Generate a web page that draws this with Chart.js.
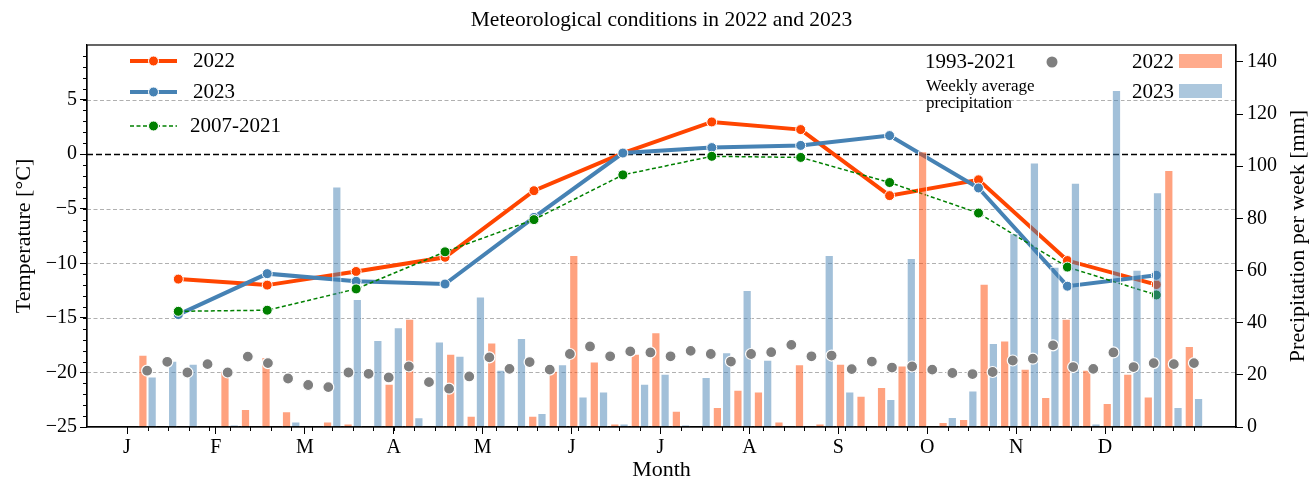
<!DOCTYPE html>
<html>
<head>
<meta charset="utf-8">
<script src="https://cdn.jsdelivr.net/npm/chart.js@4.4.1/dist/chart.umd.min.js"></script>
<style>
  html, body { margin: 0; padding: 0; background: #fff; }
  canvas { display: block; }
</style>
</head>
<body>
<canvas id="chart" width="1316" height="481"></canvas>
<script>
// Month tick labels
const months = ['J', 'F', 'M', 'A', 'M', 'J', 'J', 'A', 'S', 'O', 'N', 'D'];

// Monthly mean air temperature [°C]
const temp2022 = [-11.45, -12.0, -10.75, -9.45, -3.35, 0.1, 2.95, 2.25, -3.8, -2.35, -9.75, -11.95];
const temp2023 = [-14.7, -10.95, -11.65, -11.9, -5.8, 0.1, 0.6, 0.8, 1.7, -3.1, -12.1, -11.1];
const temp2007_2021 = [-14.4, -14.3, -12.35, -8.95, -6.0, -1.9, -0.2, -0.3, -2.6, -5.4, -10.35, -12.9];

// Weekly precipitation [mm], weeks 1..52
const precip2022 = [
  27.7, 0, 0, 0, 21.6, 6.9, 26.8, 6.0, 0, 2.1, 1.3, 0, 16.6,
  41.5, 0, 28.1, 4.3, 32.4, 0, 4.3, 21.6, 66.0, 25.1, 1.3, 28.1, 36.3,
  6.2, 0, 7.7, 14.3, 13.6, 2.1, 24.1, 1.3, 24.3, 12.0, 15.3, 23.6, 105.8,
  1.9, 3.1, 54.9, 33.2, 22.3, 11.5, 41.5, 22.0, 9.2, 20.4, 11.7, 98.6, 31.1
];
const precip2023 = [
  19.4, 25.4, 24.3, 0, 0.9, 0, 0, 2.1, 0, 92.2, 49.1, 33.4, 38.3,
  3.7, 32.8, 27.3, 50.0, 22.0, 34.1, 5.4, 24.1, 11.7, 13.6, 1.3, 16.6, 20.4,
  0.9, 19.2, 28.7, 52.5, 25.8, 0, 0, 66.0, 13.6, 0, 10.7, 64.8, 0,
  3.8, 14.0, 32.2, 74.3, 101.4, 61.5, 93.7, 1.3, 129.2, 60.3, 90.0, 7.7, 11.1
];

// Weekly average precipitation 1993-2021 [mm], 53 weekly values
const precip1993_2021 = [
  21.6, 25.0, 20.9, 24.1, 20.9, 27.0, 24.5, 18.6, 16.1, 15.3, 20.9, 20.4, 19.0,
  23.2, 17.2, 14.7, 19.4, 26.7, 22.3, 24.9, 22.0, 28.0, 30.9, 27.1, 29.0, 28.6,
  27.1, 29.2, 28.0, 25.1, 28.0, 28.7, 31.5, 27.1, 27.4, 22.2, 25.1, 22.8, 23.2,
  22.0, 20.7, 20.3, 21.1, 25.5, 26.2, 31.3, 23.0, 22.3, 28.6, 23.0, 24.5, 24.1, 24.5
];

// Axis tick values
const tempTicks = [-25, -20, -15, -10, -5, 0, 5];
const precipTicks = [0, 20, 40, 60, 80, 100, 120, 140];

// Time axis is measured in weeks; a month spans 52/12 weeks
const WEEKS_PER_MONTH = 52 / 12;
const monthTickX = months.map((_, i) => i * WEEKS_PER_MONTH);
const monthPointX = months.map((_, i) => 2.5 + i * WEEKS_PER_MONTH);
const climWeekX = precip1993_2021.map((_, j) => (j + 1) * 52 / 53);

const SERIF = "'Liberation Serif', 'Times New Roman', serif";
const C2022 = '#ff4500';
const C2023 = '#4682b4';
const CCLIM = '#008000';

const fmtMinus = v => (v < 0 ? '\u2212' + Math.abs(v) : String(v));

// Reference lines, minor ticks, frame, titles and legends
const decorations = {
  id: 'decorations',
  beforeDatasetsDraw(chart) {
    const { ctx, chartArea: a, scales } = chart;
    const y = scales.y;
    ctx.save();
    ctx.lineWidth = 1;
    for (const t of tempTicks) {
      if (t === -25 || t === 0) continue;
      const py = Math.round(y.getPixelForValue(t)) + 0.5;
      ctx.strokeStyle = '#b0b0b0';
      ctx.setLineDash([4, 2.5]);
      ctx.beginPath(); ctx.moveTo(a.left, py); ctx.lineTo(a.right, py); ctx.stroke();
    }
    const p0 = Math.round(y.getPixelForValue(0)) + 0.5;
    ctx.strokeStyle = '#000';
    ctx.lineWidth = 1.5;
    ctx.setLineDash([6, 3]);
    ctx.beginPath(); ctx.moveTo(a.left, p0); ctx.lineTo(a.right, p0); ctx.stroke();
    ctx.restore();
  },
  afterDraw(chart) {
    const { ctx, chartArea: a, scales } = chart;
    const x = scales.x, y = scales.y;
    ctx.save();
    // frame
    ctx.strokeStyle = '#000';
    ctx.lineWidth = 1.2;
    ctx.setLineDash([]);
    ctx.strokeRect(a.left, a.top, a.right - a.left, a.bottom - a.top);
    // minor ticks: weeks on x, whole degrees on y
    ctx.lineWidth = 1;
    ctx.beginPath();
    for (let w = 0; w <= 52; w++) {
      const px = Math.round(x.getPixelForValue(w)) + 0.5;
      ctx.moveTo(px, a.bottom); ctx.lineTo(px, a.bottom + 4);
    }
    for (let t = -25; t <= 9; t++) {
      const py = Math.round(y.getPixelForValue(t)) + 0.5;
      ctx.moveTo(a.left, py); ctx.lineTo(a.left - 4, py);
    }
    ctx.stroke();

    // title
    ctx.fillStyle = '#000';
    ctx.textAlign = 'center';
    ctx.textBaseline = 'middle';
    ctx.font = `21.5px ${SERIF}`;
    ctx.fillText('Meteorological conditions in 2022 and 2023', (a.left + a.right) / 2, 20);
    // axis titles
    ctx.font = `22px ${SERIF}`;
    ctx.fillText('Month', (a.left + a.right) / 2, 470);
    ctx.save();
    ctx.translate(24, (a.top + a.bottom) / 2);
    ctx.rotate(-Math.PI / 2);
    ctx.fillText('Temperature [\u00B0C]', 0, 0);
    ctx.restore();
    ctx.save();
    ctx.translate(1298, (a.top + a.bottom) / 2);
    ctx.rotate(-Math.PI / 2);
    ctx.fillText('Precipitation per week [mm]', 0, 0);
    ctx.restore();

    // temperature legend
    const lineItems = [
      { label: '2022', color: C2022, width: 4, dash: [], y: 61, tx: 193 },
      { label: '2023', color: C2023, width: 4, dash: [], y: 92, tx: 193 },
      { label: '2007-2021', color: CCLIM, width: 1.5, dash: [4, 2.5], y: 126, tx: 190 }
    ];
    ctx.textAlign = 'left';
    ctx.font = `21px ${SERIF}`;
    for (const it of lineItems) {
      ctx.strokeStyle = it.color;
      ctx.lineWidth = it.width;
      ctx.setLineDash(it.dash);
      ctx.beginPath(); ctx.moveTo(130, it.y); ctx.lineTo(177, it.y); ctx.stroke();
      ctx.setLineDash([]);
      ctx.beginPath(); ctx.arc(153.5, it.y, 5, 0, Math.PI * 2);
      ctx.fillStyle = it.color; ctx.fill();
      ctx.lineWidth = 1; ctx.strokeStyle = '#fff'; ctx.stroke();
      ctx.fillStyle = '#000';
      ctx.fillText(it.label, it.tx, it.y);
    }

    // precipitation legend
    ctx.fillText('1993-2021', 925, 62);
    ctx.beginPath(); ctx.arc(1052, 62, 5.5, 0, Math.PI * 2);
    ctx.fillStyle = '#7f7f7f'; ctx.fill();
    ctx.fillStyle = '#000';
    ctx.font = `17px ${SERIF}`;
    ctx.fillText('Weekly average', 926, 87);
    ctx.fillText('precipitation', 926, 104);
    ctx.font = `21px ${SERIF}`;
    ctx.textAlign = 'right';
    ctx.fillText('2022', 1174, 62);
    ctx.fillText('2023', 1174, 92);
    ctx.fillStyle = 'rgba(255,69,0,0.45)';
    ctx.fillRect(1179, 54, 43, 14);
    ctx.fillStyle = 'rgba(70,130,180,0.45)';
    ctx.fillRect(1179, 84, 43, 14);
    ctx.restore();
  }
};

const tickFont = { family: SERIF, size: 20 };

const chart = new Chart(document.getElementById('chart'), {
  type: 'bar',
  data: {
    datasets: [
      {
        type: 'scatter', label: '1993-2021', yAxisID: 'y1', order: 1,
        data: precip1993_2021.map((v, j) => ({ x: climWeekX[j], y: v })),
        pointRadius: 5.5, pointBackgroundColor: '#7f7f7f',
        pointBorderColor: '#fff', pointBorderWidth: 1.2
      },
      {
        type: 'bar', label: '2022', yAxisID: 'y1', order: 2,
        data: precip2022.map((v, i) => ({ x: i + 1, y: v })),
        backgroundColor: 'rgba(255,69,0,0.5)', borderColor: '#fff', borderWidth: 1,
        categoryPercentage: 0.9, barPercentage: 1.0
      },
      {
        type: 'bar', label: '2023', yAxisID: 'y1', order: 2,
        data: precip2023.map((v, i) => ({ x: i + 1, y: v })),
        backgroundColor: 'rgba(70,130,180,0.5)', borderColor: '#fff', borderWidth: 1,
        categoryPercentage: 0.9, barPercentage: 1.0
      },
      {
        type: 'line', label: '2007-2021', yAxisID: 'y', order: 3,
        data: temp2007_2021.map((v, i) => ({ x: monthPointX[i], y: v })),
        borderColor: CCLIM, borderWidth: 1.5, borderDash: [4, 2.5],
        pointRadius: 5, pointBackgroundColor: CCLIM, pointBorderColor: '#fff', pointBorderWidth: 1
      },
      {
        type: 'line', label: '2023', yAxisID: 'y', order: 3,
        data: temp2023.map((v, i) => ({ x: monthPointX[i], y: v })),
        borderColor: C2023, borderWidth: 4,
        pointRadius: 5, pointBackgroundColor: C2023, pointBorderColor: '#fff', pointBorderWidth: 1
      },
      {
        type: 'line', label: '2022', yAxisID: 'y', order: 3,
        data: temp2022.map((v, i) => ({ x: monthPointX[i], y: v })),
        borderColor: C2022, borderWidth: 4,
        pointRadius: 5, pointBackgroundColor: C2022, pointBorderColor: '#fff', pointBorderWidth: 1
      }
    ]
  },
  options: {
    responsive: false,
    animation: false,
    events: [],
    layout: { padding: { top: 45, left: 0, right: 0, bottom: 0 } },
    plugins: { legend: { display: false }, title: { display: false }, tooltip: { enabled: false } },
    scales: {
      x: {
        type: 'linear', position: 'bottom', min: -1.95, max: 54.05, offset: false,
        afterBuildTicks: s => { s.ticks = monthTickX.map(v => ({ value: v })); },
        afterFit: s => { s.height = 54; },
        grid: { display: true, offset: false, drawOnChartArea: false, drawTicks: true, tickLength: 7, color: '#000', lineWidth: 1 },
        border: { display: true, color: '#000', width: 1.2 },
        ticks: { autoSkip: false, maxRotation: 0, padding: 2, color: '#000', font: tickFont,
                 callback: (v, i) => months[i] }
      },
      y: {
        type: 'linear', position: 'left', min: -25, max: 10,
        afterBuildTicks: s => { s.ticks = tempTicks.map(v => ({ value: v })); },
        afterFit: s => { s.width = 87; },
        grid: { display: true, drawOnChartArea: false, drawTicks: true, tickLength: 7, color: '#000', lineWidth: 1 },
        border: { display: true, color: '#000', width: 1.2 },
        ticks: { padding: 3, color: '#000', font: tickFont, callback: v => fmtMinus(v) }
      },
      y1: {
        type: 'linear', position: 'right', min: 0, max: 146.5,
        afterBuildTicks: s => { s.ticks = precipTicks.map(v => ({ value: v })); },
        afterFit: s => { s.width = 80; },
        grid: { display: true, drawOnChartArea: false, drawTicks: true, tickLength: 7, color: '#000', lineWidth: 1 },
        border: { display: true, color: '#000', width: 1.2 },
        ticks: { padding: 4, color: '#000', font: tickFont }
      }
    }
  },
  plugins: [decorations]
});
</script>
</body>
</html>
